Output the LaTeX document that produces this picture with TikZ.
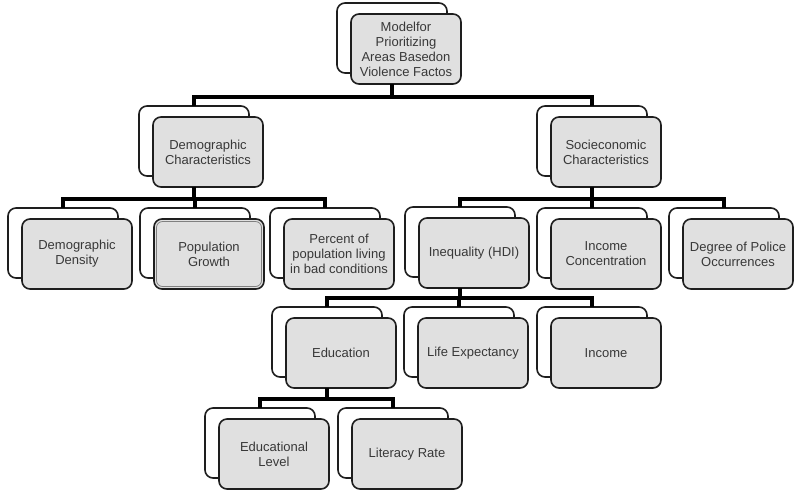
\documentclass[tikz,border=0pt]{standalone}
\usepackage{fontspec}
\setmainfont{Liberation Sans}
\definecolor{boxgray}{RGB}{224,224,224}
\definecolor{linegray}{RGB}{30,30,30}
\tikzset{
  backbox/.style={draw=linegray, fill=white, line width=1.6pt, rounded corners=8pt,
    minimum width=110pt, minimum height=70pt, inner sep=0pt, outer sep=0pt},
  frontbox/.style={draw=linegray, fill=boxgray, line width=1.6pt, rounded corners=8pt,
    minimum width=110pt, minimum height=70pt, inner sep=0pt, outer sep=0pt,
    align=center, font=\fontsize{13}{15}\selectfont, text=black!78},
  conn/.style={draw=black, line width=3.6pt},
}
\newcommand\stk[4]{%
  \node[backbox] (#1b) at (#2+55,#3+35) {};
  \node[frontbox] (#1) at (#2+69,#3+46) {#4};
}
\begin{document}
\begin{tikzpicture}[x=1pt,y=-1pt]
\useasboundingbox (0,0) rectangle (799,491);
\fill[white] (0,0) rectangle (799,491);

\stk{top}{337}{3}{Modelfor\\Prioritizing\\Areas Basedon\\Violence Factos}
\stk{dem}{139}{106}{Demographic\\Characteristics}
\stk{soc}{537}{106}{Socieconomic\\Characteristics}
\stk{dd}{8}{208}{Demographic\\Density}
\stk{pg}{140}{208}{Population\\Growth}
\stk{pc}{270}{208}{Percent of\\population living\\in bad conditions}
\stk{ineq}{405}{207}{Inequality (HDI)}
\stk{ic}{537}{208}{Income\\Concentration}
\stk{pol}{669}{208}{Degree of Police\\Occurrences}
\stk{edu}{272}{307}{Education}
\stk{le}{404}{307}{Life Expectancy}
\stk{inc}{537}{307}{Income}
\stk{el}{205}{408}{Educational\\Level}
\stk{lr}{338}{408}{Literacy Rate}

% inner line of Population Growth
\draw[gray, line width=0.8pt, rounded corners=6pt]
  ([xshift=2.5pt,yshift=-2.5pt]pg.north west) rectangle ([xshift=-2.5pt,yshift=2.5pt]pg.south east);

\coordinate (b0) at (0,97);
\coordinate (b1) at (0,199);
\coordinate (b2) at (0,298);
\coordinate (b3) at (0,399);

% top level
\draw[conn] (topb.center |- top.south) -- (topb.center |- b0);
\draw[conn] (demb.north) -- (demb.north |- b0) -- (socb.north |- b0) -- (socb.north);
% demographic
\draw[conn] (demb.center |- dem.south) -- (demb.center |- b1);
\draw[conn] (ddb.north) -- (ddb.north |- b1) -- (pcb.north |- b1) -- (pcb.north);
\draw[conn] (pgb.north) -- (pgb.north |- b1);
% socioeconomic
\draw[conn] (socb.center |- soc.south) -- (socb.center |- b1);
\draw[conn] (ineqb.north) -- (ineqb.north |- b1) -- (polb.north |- b1) -- (polb.north);
\draw[conn] (icb.north) -- (icb.north |- b1);
% inequality
\draw[conn] (ineqb.center |- ineq.south) -- (ineqb.center |- b2);
\draw[conn] (edub.north) -- (edub.north |- b2) -- (incb.north |- b2) -- (incb.north);
\draw[conn] (leb.north) -- (leb.north |- b2);
% education
\draw[conn] (edub.center |- edu.south) -- (edub.center |- b3);
\draw[conn] (elb.north) -- (elb.north |- b3) -- (lrb.north |- b3) -- (lrb.north);
\end{tikzpicture}
\end{document}
